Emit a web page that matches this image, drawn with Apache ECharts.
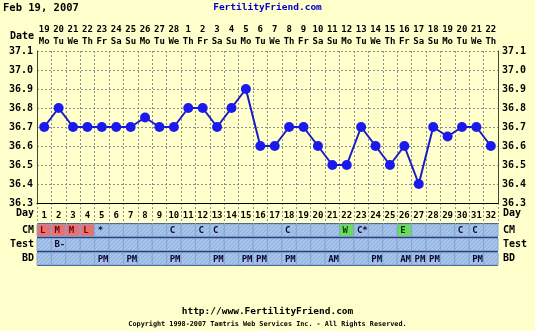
<!DOCTYPE html>
<html><head><meta charset="utf-8">
<script src="https://cdn.jsdelivr.net/npm/echarts@6/dist/echarts.min.js"></script>
<style>html,body{margin:0;padding:0;background:#FFFFCC;}#c{width:535px;height:331px;}</style>
</head><body><div id="c"></div>
<script>
const dayNumbers = ['1','2','3','4','5','6','7','8','9','10','11','12','13','14','15','16','17','18','19','20','21','22','23','24','25','26','27','28','29','30','31','32'];
const dates = ['19','20','21','22','23','24','25','26','27','28','1','2','3','4','5','6','7','8','9','10','11','12','13','14','15','16','17','18','19','20','21','22'];
const weekdays = ['Mo','Tu','We','Th','Fr','Sa','Su','Mo','Tu','We','Th','Fr','Sa','Su','Mo','Tu','We','Th','Fr','Sa','Su','Mo','Tu','We','Th','Fr','Sa','Su','Mo','Tu','We','Th'];
const temps = [36.7,36.8,36.7,36.7,36.7,36.7,36.7,36.75,36.7,36.7,36.8,36.8,36.7,36.8,36.9,36.6,36.6,36.7,36.7,36.6,36.5,36.5,36.7,36.6,36.5,36.6,36.4,36.7,36.65,36.7,36.7,36.6];
const tempTicks = {min: 36.3, max: 37.1, step: 0.1};
const rowNames = ['CM','Test','BD'];
const cmRow = ['L','M','M','L','*','','','','','C','','C','C','','','','','C','','','','W','C*','','','E','','','','C','C',''];
const testRow = ['','B-','','','','','','','','','','','','','','','','','','','','','','','','','','','','','',''];
const bdRow = ['','','','','PM','','PM','','','PM','','','PM','','PM','PM','','PM','','','AM','','','PM','','AM','PM','PM','','','PM',''];
const title = 'Feb 19, 2007';
const site = 'FertilityFriend.com';
const footerUrl = 'http://www.FertilityFriend.com';
const copyright = 'Copyright 1998-2007 Tamtris Web Services Inc. - All Rights Reserved.';

const FONT = '"DejaVu Sans Mono", monospace';
const rows = [cmRow, testRow, bdRow];
const cells = [];
rows.forEach((r, ri) => r.forEach((t, di) => cells.push([di, ri, t])));

// subtle diagonal hatch for the blue table rows
const hatch = document.createElement('canvas');
hatch.width = 4; hatch.height = 4;
(function () {
  const g = hatch.getContext('2d');
  g.fillStyle = '#A6C4EA'; g.fillRect(0, 0, 4, 4);
  g.fillStyle = '#90B0DC';
  for (let i = 0; i < 4; i++) g.fillRect(i, 3 - i, 1, 1);
})();

function cellColor(t) {
  if (t === 'L' || t === 'M' || t === 'H') return '#E57373';
  if (t === 'W' || t === 'E') return '#6BDB5E';
  return {image: hatch, repeat: 'repeat'};
}
function textColor(t) {
  if (t === 'L' || t === 'M' || t === 'H') return '#7a0000';
  if (t === 'W' || t === 'E') return '#0a3a0a';
  return '#0a0a30';
}

const L = 37, R = 37;
const grid = [
  {left: L, right: R, top: 51, height: 152},
  {left: L, right: R, top: 203, height: 21},
  {left: L, right: R, top: 223, height: 43, show: true, backgroundColor: '#1d2b66', borderWidth: 0}
];
const gridLine = {show: true, interval: 0, lineStyle: {color: '#8e8e8e', type: [2, 2], width: 1}};
const lbl = {fontFamily: FONT, fontWeight: 'bold', fontSize: 9, color: '#000'};

const option = {
  backgroundColor: '#FFFFCC',
  animation: false,
  grid,
  xAxis: [
    {gridIndex: 0, type: 'category', data: dayNumbers, position: 'bottom',
     axisLine: {show: true, lineStyle: {color: '#000', width: 1}}, axisTick: {show: false},
     axisLabel: Object.assign({interval: 0, margin: 8}, lbl), splitLine: gridLine},
    {gridIndex: 0, type: 'category', data: dates.map((d, i) => d + '\n' + weekdays[i]), position: 'top',
     axisLine: {show: false}, axisTick: {show: false},
     axisLabel: Object.assign({interval: 0, margin: 3, lineHeight: 12}, lbl)},
    {gridIndex: 1, type: 'category', data: dayNumbers, axisLine: {show: false}, axisTick: {show: false},
     axisLabel: {show: false}, splitLine: gridLine},
    {gridIndex: 2, type: 'category', data: dayNumbers, axisLine: {show: false}, axisTick: {show: false},
     axisLabel: {show: false}, splitLine: {show: false}}
  ],
  yAxis: [
    {gridIndex: 0, type: 'value', min: tempTicks.min, max: tempTicks.max, interval: tempTicks.step, position: 'left',
     axisLine: {show: true, lineStyle: {color: '#444'}}, axisTick: {show: false},
     axisLabel: Object.assign({margin: 4, formatter: v => v.toFixed(1)}, lbl, {fontSize: 10}),
     splitLine: {show: true, lineStyle: {color: '#8e8e8e', type: [2, 2]}}},
    {gridIndex: 0, type: 'value', min: tempTicks.min, max: tempTicks.max, interval: tempTicks.step, position: 'right',
     axisLine: {show: true, lineStyle: {color: '#444'}}, axisTick: {show: false},
     axisLabel: Object.assign({margin: 4, formatter: v => v.toFixed(1)}, lbl, {fontSize: 10}), splitLine: {show: false}},
    {gridIndex: 1, type: 'category', data: ['Day'], position: 'left', axisLine: {show: false}, axisTick: {show: false},
     axisLabel: Object.assign({margin: 3}, lbl, {fontSize: 10})},
    {gridIndex: 1, type: 'category', data: ['Day'], position: 'right', axisLine: {show: false}, axisTick: {show: false},
     axisLabel: Object.assign({margin: 5}, lbl, {fontSize: 10})},
    {gridIndex: 2, type: 'category', data: rowNames, inverse: true, position: 'left', axisLine: {show: false}, axisTick: {show: false},
     axisLabel: Object.assign({margin: 3}, lbl, {fontSize: 10})},
    {gridIndex: 2, type: 'category', data: rowNames, inverse: true, position: 'right', axisLine: {show: false}, axisTick: {show: false},
     axisLabel: Object.assign({margin: 5}, lbl, {fontSize: 10})}
  ],
  series: [
    {type: 'line', xAxisIndex: 0, yAxisIndex: 0, data: temps, symbol: 'circle', symbolSize: 10,
     lineStyle: {color: '#1b1bc4', width: 2}, itemStyle: {color: '#1a1aee'}, z: 5},
    {type: 'custom', xAxisIndex: 3, yAxisIndex: 4, data: cells,
     renderItem: function (params, api) {
       const c = api.coord([api.value(0), api.value(1)]);
       const s = api.size([1, 1]);
       const t = cells[params.dataIndex][2];
       const x0 = c[0] - s[0] / 2, y0 = c[1] - s[1] / 2;
       return {type: 'group', children: [
         {type: 'rect', shape: {x: x0, y: y0 + 1, width: s[0], height: s[1] - 2},
          style: {fill: cellColor(t), stroke: '#86a6d4', lineWidth: 1}},
         {type: 'text', style: {text: t, x: x0 + 3, y: c[1] + 0.5, verticalAlign: 'middle', align: 'left',
          font: 'bold 9px ' + FONT, fill: textColor(t)}}
       ]};
     }}
  ],
  graphic: [
    {type: 'text', left: 3, top: 3, style: {text: title, font: 'bold 10.5px ' + FONT, fill: '#000'}},
    {type: 'text', left: 'center', top: 3, style: {text: site, font: 'bold 9.5px ' + FONT, fill: '#0000cc'}},
    {type: 'text', right: 501, top: 31, style: {text: 'Date', font: 'bold 10px ' + FONT, fill: '#000'}},
    {type: 'text', left: 'center', top: 307, style: {text: footerUrl, font: 'bold 9.5px ' + FONT, fill: '#000'}},
    {type: 'text', left: 'center', top: 321, style: {text: copyright, font: 'bold 6.8px ' + FONT, fill: '#000'}}
  ]
};
const chart = echarts.init(document.getElementById('c'), null, {renderer: 'canvas'});
chart.setOption(option);
</script></body></html>
